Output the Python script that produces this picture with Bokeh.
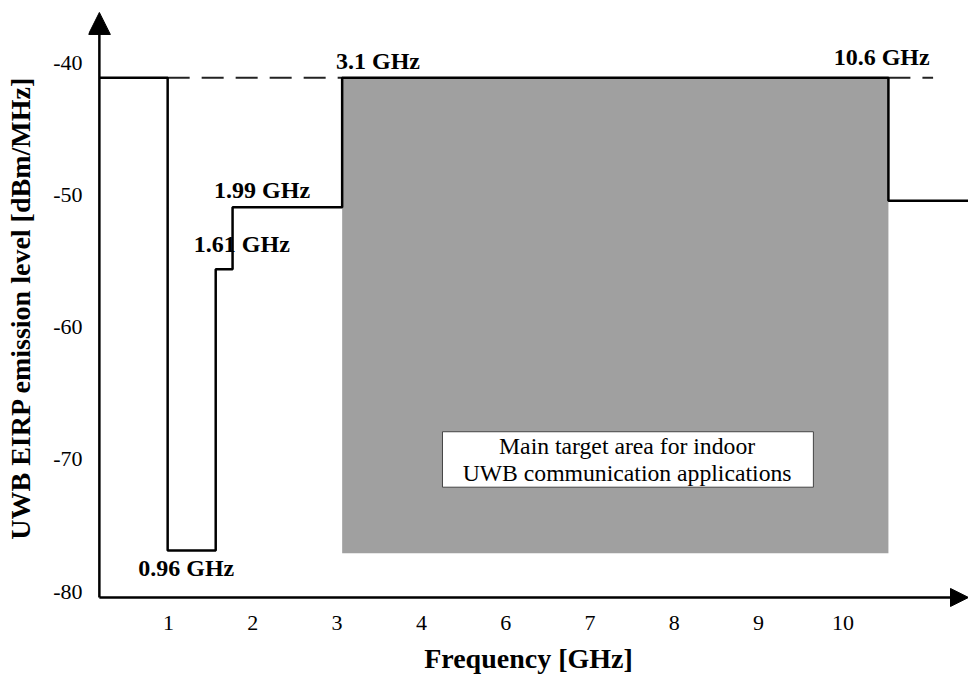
from bokeh.plotting import figure
from bokeh.models import Arrow, NormalHead, FixedTicker, Label, Range1d
from bokeh.embed import file_html
from bokeh.resources import INLINE

# ---- data (x is the drawn, schematic frequency axis) ----
tick_pos = [1, 2, 3, 4, 5, 6, 7, 8, 9]
tick_labels = ["1", "2", "3", "4", "6", "7", "8", "9", "10"]
y_ticks = [-80, -70, -60, -50, -40]
y_tick_labels = ["-80", "-70", "-60", "-50", "-40"]

# band edges (positions on the drawn axis) and their labels
edge_pos = [0.99, 1.56, 1.76, 3.06, 9.54]
edge_labels = ["0.96 GHz", "1.61 GHz", "1.99 GHz", "3.1 GHz", "10.6 GHz"]
# emission limit in each band [dBm/MHz]: <0.96, 0.96-1.61, 1.61-1.99, 1.99-3.1, 3.1-10.6, >10.6
band_levels = [-41.1, -76.9, -55.6, -50.9, -41.1, -50.4]
target_floor = -77.1
box_lines = ["Main target area for indoor", "UWB communication applications"]

# axes origin / arrow tips
AX_X, AX_Y = 0.18, -80.45
TIP_X, TIP_Y = 10.49, -36.15
# visible ranges (slightly beyond the axes so the arrow heads are not clipped)
X0, X1 = 0.051, 10.49
Y0, Y1 = -81.21, -35.85

SERIF = "Liberation Serif"

p = figure(width=968, height=676, x_range=Range1d(X0, X1), y_range=Range1d(Y0, Y1),
           output_backend="svg", toolbar_location=None,
           min_border_left=88, min_border_right=0, min_border_top=8, min_border_bottom=67)
p.xgrid.visible = False
p.ygrid.visible = False
p.outline_line_color = None
p.background_fill_color = "white"
p.border_fill_color = "white"

for ax in (p.xaxis[0], p.yaxis[0]):
    ax.axis_line_color = None
    ax.major_tick_out = 0
    ax.major_tick_in = 0
    ax.minor_tick_out = 0
    ax.minor_tick_in = 0
    ax.major_label_text_font = SERIF
    ax.major_label_text_font_size = "22px"
    ax.major_label_text_color = "black"
    ax.axis_label_text_font = SERIF
    ax.axis_label_text_font_size = "28px"
    ax.axis_label_text_font_style = "bold"
    ax.axis_label_text_color = "black"

p.xaxis.ticker = FixedTicker(ticks=tick_pos)
p.xaxis.major_label_overrides = {t: l for t, l in zip(tick_pos, tick_labels)}
p.xaxis.major_label_standoff = 8
p.xaxis.axis_label = "Frequency [GHz]"
p.xaxis.axis_label_standoff = 10

p.yaxis.ticker = FixedTicker(ticks=y_ticks)
p.yaxis.major_label_overrides = {t: l for t, l in zip(y_ticks, y_tick_labels)}
p.yaxis.major_label_standoff = 6
p.yaxis.axis_label = "UWB EIRP emission level [dBm/MHz]"
p.yaxis.axis_label_standoff = 14

# shaded target area
p.quad(left=[edge_pos[3]], right=[edge_pos[4]], top=[band_levels[4]], bottom=[target_floor],
       fill_color="#a0a0a0", line_color=None)

# text box inside target area
p.quad(left=[4.25], right=[8.65], top=[-67.9], bottom=[-72.1],
       fill_color="white", line_color="#444444", line_width=1)
p.add_layout(Label(x=6.44, y=-68.95, text=box_lines[0], text_align="center", text_baseline="middle",
                   text_font=SERIF, text_font_size="23.7px", text_color="black"))
p.add_layout(Label(x=6.44, y=-71.0, text=box_lines[1], text_align="center", text_baseline="middle",
                   text_font=SERIF, text_font_size="23.7px", text_color="black"))

# dashed reference level
p.line([edge_pos[0], edge_pos[3]], [band_levels[0], band_levels[0]],
       line_color="#222222", line_width=2, line_dash="22 12")
p.line([edge_pos[4], 10.07], [band_levels[4], band_levels[4]],
       line_color="#222222", line_width=2, line_dash="22 12")

# emission mask step line
xs = [AX_X]
ys = [band_levels[0]]
for i, e in enumerate(edge_pos):
    xs += [e, e]
    ys += [band_levels[i], band_levels[i + 1]]
xs.append(TIP_X)
ys.append(band_levels[-1])
p.line(xs, ys, line_color="black", line_width=2.5)

# edge labels
label_xy = [(1.21, -78.2), (1.87, -53.7), (2.11, -49.6), (3.485, -39.8), (9.46, -39.55)]
for (lx, ly), txt in zip(label_xy, edge_labels):
    p.add_layout(Label(x=lx, y=ly, text=txt, text_align="center", text_baseline="middle",
                       text_font=SERIF, text_font_size="24px", text_font_style="bold",
                       text_color="black"))

# axes drawn as arrows
p.add_layout(Arrow(end=NormalHead(size=22, fill_color="black", line_color="black"),
                   x_start=AX_X, y_start=AX_Y, x_end=AX_X, y_end=TIP_Y,
                   line_color="black", line_width=2.5))
p.add_layout(Arrow(end=NormalHead(size=18, fill_color="black", line_color="black"),
                   x_start=AX_X, y_start=AX_Y, x_end=TIP_X, y_end=AX_Y,
                   line_color="black", line_width=2.5))

open("out.html", "w").write(file_html(p, INLINE))
